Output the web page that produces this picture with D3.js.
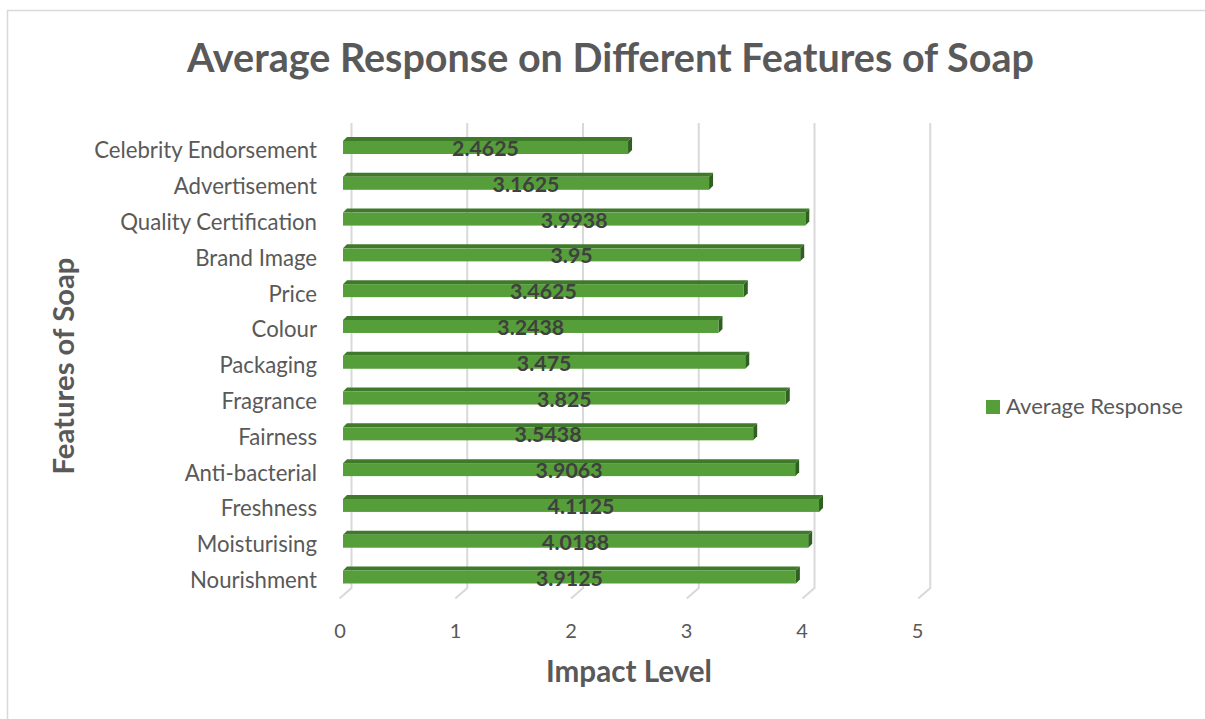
<!DOCTYPE html>
<html><head><meta charset="utf-8">
<script src="https://cdn.jsdelivr.net/npm/d3@7"></script>
<style>body{margin:0;background:#fff}svg{display:block}</style>
</head><body>
<svg id="c" width="1205" height="719"></svg>
<script>
const categories = ["Celebrity Endorsement","Advertisement","Quality Certification","Brand Image","Price","Colour","Packaging","Fragrance","Fairness","Anti-bacterial","Freshness","Moisturising","Nourishment"];
const values = [2.4625,3.1625,3.9938,3.95,3.4625,3.2438,3.475,3.825,3.5438,3.9063,4.1125,4.0188,3.9125];
const labels = ["2.4625","3.1625","3.9938","3.95","3.4625","3.2438","3.475","3.825","3.5438","3.9063","4.1125","4.0188","3.9125"];
const ticks = [0,1,2,3,4,5];
const seriesName = "Average Response";
const title = "Average Response on Different Features of Soap";
const xTitle = "Impact Level";
const yTitle = "Features of Soap";

const svg = d3.select("#c");
const FONT = "Lato, 'Open Sans', 'Liberation Sans', sans-serif";
const grey = "#595959";

svg.append("rect").attr("x",7.5).attr("y",10.5).attr("width",1220).attr("height",730)
  .attr("fill","#fff").attr("stroke","#d9d9d9").attr("stroke-width",1.5);

function fit(sel, w){ const l = sel.node().getComputedTextLength(); const fs = parseFloat(sel.attr("font-size")); sel.attr("font-size", fs*w/l); return fs*w/l; }

// scales
const x = d3.scaleLinear().domain([0,5]).range([343, 343+115.75*5]); // bar front face
const xBack = d3.scaleLinear().domain([0,5]).range([351.5, 351.5+115.75*5]);
const xFloor = d3.scaleLinear().domain([0,5]).range([340, 340+115.5*5]);
const y = d3.scaleBand().domain(categories).range([129.6,594.9]);
const rowC = d => y(d)+y.bandwidth()/2;

// gridlines (back wall) + floor
const grid = svg.append("g");
ticks.forEach(t=>{
  grid.append("path").attr("d",`M${xBack(t)},123V588L${xBack(t)-12},598.5`)
    .attr("fill","none").attr("stroke","#d9d9d9").attr("stroke-width",2);
});

// bars
const faceH = 13, dep = 4;
const bars = svg.append("g").selectAll("g").data(categories).join("g");
bars.each(function(c,i){
  const g = d3.select(this);
  const yTop = rowC(c)-faceH/2, x0 = x(0), x1 = x(values[i]);
  g.append("path").attr("d",`M${x0},${yTop}L${x0+dep},${yTop-dep}L${x1+dep},${yTop-dep}L${x1},${yTop}Z`).attr("fill","#3f7a2b");
  g.append("path").attr("d",`M${x1},${yTop}L${x1+dep},${yTop-dep}L${x1+dep},${yTop+faceH-dep}L${x1},${yTop+faceH}Z`).attr("fill","#2f6020");
  g.append("rect").attr("x",x0).attr("y",yTop).attr("width",x1-x0).attr("height",faceH).attr("fill","#559e3a");
});

// data labels
const dl = svg.append("g").selectAll("text").data(categories).join("text")
  .attr("x",(c,i)=>(x(0)+x(values[i]))/2).attr("y",c=>rowC(c)+8.5)
  .attr("text-anchor","middle").attr("font-family",FONT).attr("font-weight","bold")
  .attr("font-size",18).attr("fill","#404040").text((c,i)=>labels[i]);
{ const s = fit(dl.filter((c,i)=>i===0), 67); dl.attr("font-size",s); }

// category labels
const cl = svg.append("g").selectAll("text").data(categories).join("text")
  .attr("x",317).attr("y",c=>rowC(c)+11).attr("text-anchor","end")
  .attr("font-family",FONT).attr("font-size",18).attr("fill",grey).text(c=>c);
{ const s = fit(cl.filter((c,i)=>i===0), 223); cl.attr("font-size",s); }

// tick labels
svg.append("g").selectAll("text").data(ticks).join("text")
  .attr("x",t=>xFloor(t)).attr("y",638).attr("text-anchor","middle")
  .attr("font-family",FONT).attr("font-size",20).attr("fill",grey).text(t=>t);

// title
const tt = svg.append("text").attr("x",610.5).attr("y",72).attr("text-anchor","middle")
  .attr("font-family",FONT).attr("font-weight","bold").attr("font-size",36).attr("fill",grey).text(title);
fit(tt, 847);

// axis titles
const xt = svg.append("text").attr("x",629).attr("y",682).attr("text-anchor","middle")
  .attr("font-family",FONT).attr("font-weight","bold").attr("font-size",24).attr("fill",grey).text(xTitle);
fit(xt,166);
const yt = svg.append("text").attr("transform","translate(74,366) rotate(-90)").attr("text-anchor","middle")
  .attr("font-family",FONT).attr("font-weight","bold").attr("font-size",24).attr("fill",grey).text(yTitle);
fit(yt,217);

// legend
svg.append("rect").attr("x",986).attr("y",400).attr("width",14).attr("height",14).attr("fill","#559e3a");
const lt = svg.append("text").attr("x",1006).attr("y",414).attr("font-family",FONT).attr("font-size",18).attr("fill",grey).text(seriesName);
fit(lt,177);
</script>
</body></html>
